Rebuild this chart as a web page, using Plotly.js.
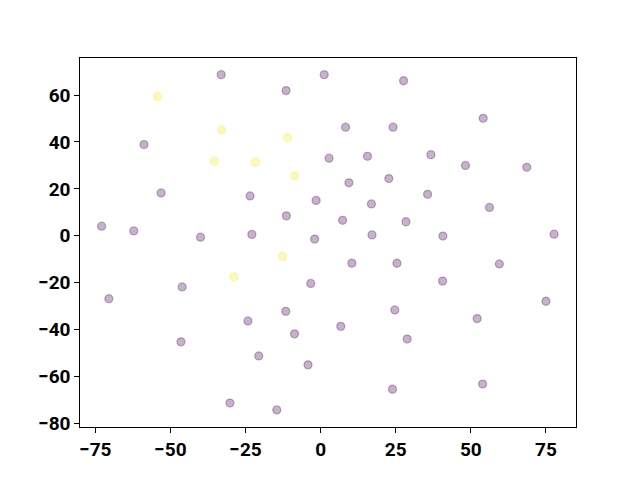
<!DOCTYPE html>
<html>
<head>
<meta charset="utf-8">
<script src="https://cdn.plot.ly/plotly-3.0.1.min.js"></script>
<style>html,body{margin:0;padding:0;background:#fff;}#chart{width:640px;height:480px;}</style>
</head>
<body>
<div id="chart"></div>
<script>
// x, y coordinates and class label (0 = purple, 1 = yellow)
const xs = [-33.1, 1.2, -11.5, -54.3, -32.9, -11.0, -58.8, -35.4, -21.7, 2.8,
  -8.7, -53.1, -23.5, -1.5, -11.4, -72.9, -62.2, -40.0, -22.9, -2.0,
  27.6, 54.1, 8.3, 24.1, 15.6, 36.7, 48.2, 68.6, 9.4, 22.7,
  16.9, 35.6, 56.2, 7.3, 28.4, 17.1, 40.7, 77.7, -12.7, -28.9,
  -46.1, -3.3, -70.5, -11.6, -24.2, -8.7, -46.5, -20.6, -4.2, -30.2,
  -14.6, 10.4, 25.4, 59.5, 40.6, 75.0, 24.7, 6.7, 52.1, 28.8,
  23.9, 53.9];
const ys = [68.7, 68.7, 61.9, 59.4, 45.1, 41.9, 38.9, 31.8, 31.4, 33.1,
  25.5, 18.3, 17.0, 15.1, 8.5, 4.1, 2.1, -0.6, 0.6, -1.4,
  66.1, 50.1, 46.3, 46.3, 33.9, 34.6, 30.0, 29.2, 22.6, 24.4,
  13.6, 17.7, 12.1, 6.6, 6.0, 0.4, -0.1, 0.7, -8.8, -17.6,
  -21.8, -20.3, -26.8, -32.2, -36.3, -41.8, -45.2, -51.2, -55.0, -71.3,
  -74.2, -11.7, -11.7, -12.0, -19.3, -27.9, -31.6, -38.6, -35.3, -44.0,
  -65.4, -63.2];
const labels = [0, 0, 0, 1, 1, 1, 0, 1, 1, 0,
  1, 0, 0, 0, 0, 0, 0, 0, 0, 0,
  0, 0, 0, 0, 0, 0, 0, 0, 0, 0,
  0, 0, 0, 0, 0, 0, 0, 0, 1, 1,
  0, 0, 0, 0, 0, 0, 0, 0, 0, 0,
  0, 0, 0, 0, 0, 0, 0, 0, 0, 0,
  0, 0];
const classColors = ['rgba(68,1,84,0.3)', 'rgba(253,231,37,0.3)'];

const colors = labels.map(l => classColors[l]);

const trace = {
  x: xs, y: ys, type: 'scatter', mode: 'markers',
  marker: {size: 8, color: colors, line: {color: colors, width: 1.3}},
  hoverinfo: 'x+y'
};

const axisCommon = {
  showgrid: false, zeroline: false, showline: true, mirror: true,
  linecolor: '#000', linewidth: 1, ticks: 'outside', ticklen: 4.7,
  tickwidth: 1, tickcolor: '#000',
  tickfont: {family: 'Roboto', size: 19, color: '#000', weight: 'bold'}
};

const layout = {
  width: 640, height: 480,
  margin: {l: 80, r: 64, t: 58, b: 53},
  paper_bgcolor: '#fff', plot_bgcolor: '#fff',
  showlegend: false,
  xaxis: Object.assign({}, axisCommon, {range: [-80.1, 85.0], tickmode: 'linear', tick0: -75, dtick: 25}),
  yaxis: Object.assign({}, axisCommon, {range: [-81.5, 75.8], tickmode: 'linear', tick0: -80, dtick: 20})
};

Plotly.newPlot('chart', [trace], layout, {displayModeBar: false, staticPlot: true});
</script>
</body>
</html>
